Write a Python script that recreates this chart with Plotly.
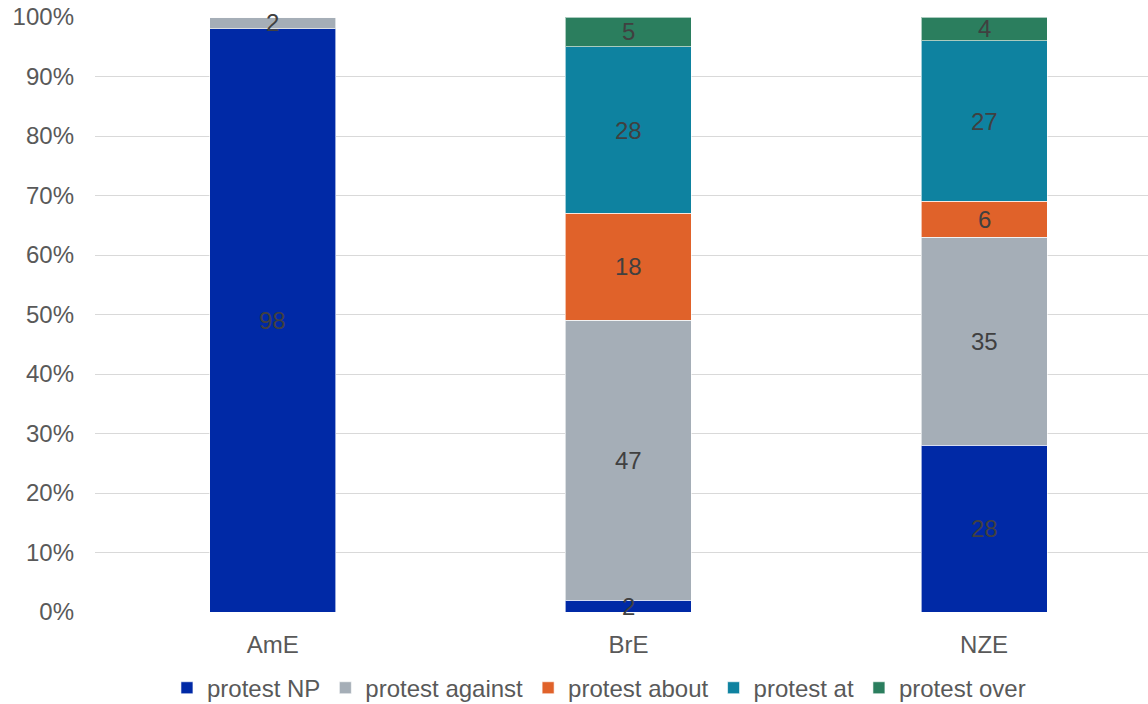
import plotly.graph_objects as go

categories = ["AmE", "BrE", "NZE"]
series_names = ["protest NP", "protest against", "protest about", "protest at", "protest over"]
protest_np = [98, 2, 28]
protest_against = [2, 47, 35]
protest_about = [0, 18, 6]
protest_at = [0, 28, 27]
protest_over = [0, 5, 4]
tick_vals = [0, 10, 20, 30, 40, 50, 60, 70, 80, 90, 100]
tick_text = [f"{v}%" for v in tick_vals]

colors = ["#0029A6", "#A5AEB7", "#E0622A", "#0E82A0", "#2B7E5E"]
series = [protest_np, protest_against, protest_about, protest_at, protest_over]
FONT = "Liberation Sans, Arial"

fig = go.Figure()
base = [0] * len(categories)
annotations = []
for name, vals, col in zip(series_names, series, colors):
    fig.add_trace(go.Bar(
        x=categories, y=vals, name=name,
        marker=dict(color=col, line=dict(color="rgba(255,255,255,0.6)", width=1)),
        width=0.354,
        hoverinfo="skip",
    ))
    for i, (c, v) in enumerate(zip(categories, vals)):
        if v:
            annotations.append(dict(
                x=c, y=base[i] + v / 2, xref="x", yref="y", text=str(v),
                showarrow=False, font=dict(color="#404040", size=24, family=FONT),
                xanchor="center", yanchor="middle",
            ))
        base[i] += v

fig.update_layout(
    barmode="stack",
    width=1148, height=704,
    margin=dict(l=95, r=0, t=17, b=92, autoexpand=False),
    plot_bgcolor="white", paper_bgcolor="white",
    font=dict(family=FONT, size=24, color="#595959"),
    annotations=annotations,
    xaxis=dict(range=[-0.5, 2.461], showgrid=False, zeroline=False,
               tickfont=dict(size=24, color="#595959"), ticks="", showline=False,
               automargin=False),
    yaxis=dict(range=[0, 100], tickvals=tick_vals, ticktext=tick_text,
               showgrid=True, gridcolor="#D9D9D9", gridwidth=1.3, zeroline=False,
               tickfont=dict(size=24, color="#595959"), ticks="", ticklen=0,
               automargin=False),
    legend=dict(orientation="h", x=0.4786, xanchor="center", y=-0.128, yanchor="middle",
                font=dict(size=24, color="#595959"), traceorder="normal",
                itemwidth=30),
    showlegend=True,
)
fig.update_yaxes(ticklabelstandoff=20)
fig.update_xaxes(ticklabelstandoff=16)
fig.write_html("out.html")
